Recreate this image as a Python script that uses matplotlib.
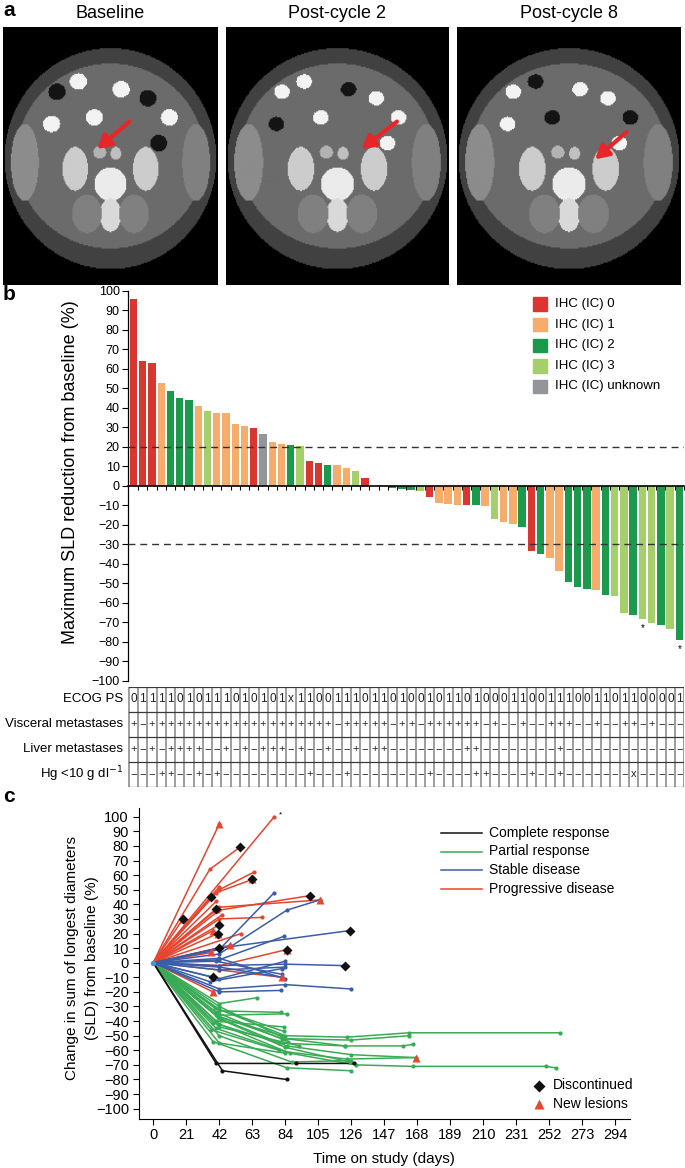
import numpy as np
import matplotlib
matplotlib.use("Agg")
import matplotlib.pyplot as plt
from matplotlib.patches import Rectangle
from matplotlib.lines import Line2D

plt.rcParams['font.family'] = ['Liberation Sans', 'DejaVu Sans']

W, H = 685, 1168

# ---------------------------------------------------------------- data
scan_titles = ["Baseline", "Post-cycle 2", "Post-cycle 8"]

# panel b: best change per patient, IHC group (0,1,2,3,'u')
sld_change = [96, 64, 63, 52.5, 48.5, 45, 44, 41, 38.5, 37.5, 37.5, 31.5, 30.5, 29.5,
              26.5, 22.5, 21.5, 21, 20.5, 12.5, 11.5, 10.5, 10.5, 9, 7.5, 4, 0, 0,
              -1.4, -1.9, -2.2, -2.6, -5.6, -9.1, -9.4, -9.7, -9.7, -9.9, -10.3, -17.1,
              -18.6, -19.5, -21, -33.7, -34.9, -36.9, -43.6, -49.4, -52, -52.8, -53.3,
              -55.9, -56.4, -65.5, -66.2, -68.4, -70.6, -71.3, -73.5, -79.3]
ihc_group = [0, 0, 0, 1, 2, 2, 2, 1, 3, 1, 1, 1, 1, 0, 'u', 1, 1, 2, 3, 0, 0, 2, 1, 1, 3, 0,
             1, 1,
             2, 2, 2, 3, 0, 1, 1, 1, 0, 2, 1, 3, 1, 1, 2, 0, 2, 1, 1, 2, 2, 2, 1, 2, 3, 3,
             2, 3, 3, 2, 3, 2]
starred = [55, 59]
ihc_labels = ["IHC (IC) 0", "IHC (IC) 1", "IHC (IC) 2", "IHC (IC) 3", "IHC (IC) unknown"]
ihc_keys = [0, 1, 2, 3, 'u']

ecog = "011110101110101 01x11001110110 100101101000110011100110110000 1".replace(" ", "")
visceral = "+-++++++++++++++++++++-" + "+++++-++-++++++-+--+--+++--+--++-+---"
liver = "+-+-++++--+-+-+++-+--+--" + "+-++--------++--------+-------------"
hg = "---++--+-+---------+---+" + "--------+----++----+--+-------x-----"
table_rows = ["ECOG PS", "Visceral metastases", "Liver metastases", "Hg <10 g dl$^{-1}$"]

# panel c: SLD change over time, one list per patient; end flag D=discontinued, T=new lesions
cr_days = [[0, 40, 91, 128], [0, 44, 85]]
cr_vals = [[0, -69, -69, -69], [0, -74, -80]]
cr_end = ['', '']

pr_days = [[0, 42, 84, 123, 163, 259], [0, 40, 82, 126, 163], [0, 38, 80, 122, 159, 165],
           [0, 42, 85, 126, 167], [0, 40, 84, 123, 167], [0, 42, 87, 129, 165, 250, 256],
           [0, 38, 85, 126], [0, 42, 66], [0, 42, 81], [0, 42, 85], [0, 40, 83],
           [0, 42, 93], [0, 37, 80], [0, 42, 84], [0, 42, 88, 126], [0, 42, 84, 122],
           [0, 41, 82], [0, 40, 86], [0, 43, 84, 125], [0, 39, 83]]
pr_vals = [[0, -32, -50, -51, -48, -48], [0, -36, -52, -53, -50], [0, -41, -55, -57, -57, -56],
           [0, -38, -57, -63, -65], [0, -45, -61, -66, -65], [0, -42, -62, -70, -71, -71, -72],
           [0, -54, -72, -74], [0, -28, -24], [0, -33, -34], [0, -36, -35], [0, -40, -44],
           [0, -44, -57], [0, -46, -60], [0, -55, -62], [0, -50, -68, -67], [0, -30, -52, -57],
           [0, -37, -50], [0, -34, -54], [0, -39, -58, -68], [0, -31, -47]]
pr_end = ['', '', '', 'T', '', '', '', '', '', '', '', '', '', '', '', '', '', '', '', '']

sd_days = [[0, 42, 77], [0, 42, 85, 106], [0, 42, 125], [0, 42, 83], [0, 42, 84, 122],
           [0, 42, 84, 126], [0, 42], [0, 38], [0, 42, 81], [0, 42, 84], [0, 42, 82],
           [0, 40, 82], [0, 42, 84], [0, 36, 82], [0, 42, 84]]
sd_vals = [[0, 9, 48], [0, 6, 36, 43], [0, 10, 22], [0, 2, 18], [0, -2, -1, -2],
           [0, -18, -15, -18], [0, 10], [0, -10], [0, -20, -19], [0, -11, 1], [0, -3, -10],
           [0, 1, -8], [0, -5, -3], [0, -13, -4], [0, 3, -11]]
sd_end = ['', '', 'D', '', 'D', '', 'D', 'D', '', '', '', '', '', '', '']

pd_days = [[0, 42], [0, 77], [0, 36, 55], [0, 42, 64], [0, 40, 63], [0, 19], [0, 37],
           [0, 40], [0, 42], [0, 41], [0, 42, 69], [0, 37], [0, 49], [0, 56],
           [0, 42, 100], [0, 42, 106], [0, 42, 85], [0, 42, 82], [0, 38], [0, 42],
           [0, 40], [0, 44], [0, 38]]
pd_vals = [[0, 95], [0, 100], [0, 64, 79], [0, 50, 62], [0, 48, 57], [0, 30], [0, 45],
           [0, 37], [0, 26], [0, 20], [0, 30, 31], [0, 7], [0, 12], [0, 20],
           [0, 36, 46], [0, 38, 43], [0, -2, 9], [0, -5, -10], [0, -20], [0, 52],
           [0, 42], [0, 33], [0, 22]]
pd_end = ['T', '', 'D', '', 'DT', 'DT', 'D', 'DT', 'D', 'DT', '', 'T', 'T', '',
          'D', 'T', 'DT', 'T', 'T', '', '', '', 'T']

response_labels = ["Complete response", "Partial response", "Stable disease", "Progressive disease"]

# ---------------------------------------------------------------- style
bar_colors = {0: '#d8362f', 1: '#f6ad6c', 2: '#1c9a4c', 3: '#a5cf6b', 'u': '#939598'}
line_colors = ['#111111', '#3aab55', '#3b5ca8', '#e6452f']
tri_color = '#e8472f'


def box(x0, y0, x1, y1):
    return [x0 / W, 1 - y1 / H, (x1 - x0) / W, (y1 - y0) / H]


fig = plt.figure(figsize=(W / 100, H / 100), dpi=100)

# ---------------------------------------------------------------- panel a (scan placeholders)
def fake_scan(k):
    n = 220
    yy, xx = np.mgrid[-1:1:n * 1j, -1:1:n * 1j]
    img = np.zeros((n, n))
    body = (xx / 0.99) ** 2 + ((yy - 0.02) / 0.86) ** 2 < 1
    inner = (xx / 0.88) ** 2 + ((yy - 0.0) / 0.72) ** 2 < 1
    img[body] = 0.26
    img[inner] = 0.42
    for cx, cy, rx, ry, v in [(-0.8, 0.05, 0.13, 0.3, 0.55), (0.8, 0.05, 0.13, 0.3, 0.5),
                              (-0.33, 0.1, 0.12, 0.17, 0.8), (0.33, 0.1, 0.12, 0.17, 0.8),
                              (0.0, 0.22, 0.15, 0.13, 0.92), (0.0, 0.46, 0.1, 0.13, 0.85),
                              (-0.22, 0.45, 0.14, 0.15, 0.5), (0.22, 0.45, 0.14, 0.15, 0.5),
                              (0.05, -0.02, 0.05, 0.05, 0.75), (-0.1, -0.03, 0.06, 0.05, 0.7)]:
        img[((xx - cx) / rx) ** 2 + ((yy - cy) / ry) ** 2 < 1] = v
    loops = [(-0.5, -0.5), (-0.3, -0.58), (0.1, -0.52), (0.35, -0.45), (0.55, -0.3),
             (-0.55, -0.25), (0.45, -0.1), (-0.15, -0.3)]
    for j, (cx, cy) in enumerate(loops):
        v = 0.95 if (j + k) % 3 else 0.08
        r = 0.08 if k == 0 else 0.07
        img[((xx - cx) / r) ** 2 + ((yy - cy) / (r * 0.8)) ** 2 < 1] = v
    return img


scan_boxes = [(3, 27, 217, 285), (226, 27, 448, 285), (457, 27, 680, 285)]
arrow_tips = [((0.43, 0.52), (0.6, 0.64)), ((0.6, 0.52), (0.78, 0.64)), ((0.61, 0.48), (0.77, 0.6))]
for k, (b, title) in enumerate(zip(scan_boxes, scan_titles)):
    ax = fig.add_axes(box(*b))
    ax.imshow(fake_scan(k), cmap='gray', vmin=0, vmax=1, aspect='auto', interpolation='bilinear')
    ax.set_xticks([])
    ax.set_yticks([])
    for s in ax.spines.values():
        s.set_visible(False)
    tip, tail = arrow_tips[k]
    ax.annotate('', xy=tip, xytext=tail, xycoords='axes fraction',
                arrowprops=dict(arrowstyle='-|>,head_length=0.8,head_width=0.45',
                                color='#e8262a', lw=3))
    fig.text((b[0] + b[2]) / 2 / W, 1 - 13 / H, title, ha='center', va='center', fontsize=13)

fig.text(3 / W, 1 - 10 / H, 'a', fontsize=15, fontweight='bold', va='center')
fig.text(3 / W, 1 - 294 / H, 'b', fontsize=15, fontweight='bold', va='center')
fig.text(3 / W, 1 - 797 / H, 'c', fontsize=15, fontweight='bold', va='center')

# ---------------------------------------------------------------- panel b
n = len(sld_change)
xlo, xhi = -0.594, 59.45
axb = fig.add_axes(box(128, 290.7, 684, 680.7))
idx = np.arange(n)
axb.bar(idx, sld_change, width=0.8, color=[bar_colors[g] for g in ihc_group], zorder=2)
for i in starred:
    axb.text(i, sld_change[i] - 2, '*', ha='center', va='top', fontsize=7)
axb.axhline(20, color='#333333', lw=1, ls=(0, (5, 3.5)), zorder=3)
axb.axhline(-30, color='#333333', lw=1, ls=(0, (5, 3.5)), zorder=3)
axb.set_xlim(xlo, xhi)
axb.set_ylim(-100, 100)
axb.spines['right'].set_visible(False)
axb.spines['top'].set_visible(False)
axb.spines['bottom'].set_position(('data', 0))
axb.spines['bottom'].set_linewidth(1.2)
axb.spines['left'].set_linewidth(0.9)
axb.spines['left'].set_bounds(-100, 100)
axb.set_xticks(np.arange(n) + 0.5)
axb.set_xticklabels([])
axb.tick_params(axis='x', length=3, width=0.8, direction='out')
axb.set_yticks(np.arange(-100, 101, 10))
axb.tick_params(axis='y', length=4, width=0.8, labelsize=9, pad=2)
fig.text(71 / W, 1 - 472 / H, 'Maximum SLD reduction from baseline (%)', rotation=90,
         ha='center', va='center', fontsize=13)

for i, (lab, key) in enumerate(zip(ihc_labels, ihc_keys)):
    yc = 304 + i * 20.6
    fig.add_artist(Rectangle((533 / W, 1 - (yc + 6.8) / H), 13.5 / W, 13.5 / H,
                             color=bar_colors[key], transform=fig.transFigure))
    fig.text(555 / W, 1 - yc / H, lab, va='center', fontsize=9.5)

# table
axt = fig.add_axes(box(128, 686.7, 684, 786.7))
axt.set_xlim(xlo, xhi)
axt.set_ylim(4, 0)
axt.axis('off')
for i in range(n + 1):
    axt.plot([i - 0.5, i - 0.5], [0, 4], color='#8c8c8c', lw=1.2)
for r in range(5):
    axt.plot([-0.5, n - 0.5], [r, r], color='#3a3a3a', lw=0.9)
rows = [ecog, visceral, liver, hg]
for r, row in enumerate(rows):
    for i, ch in enumerate(row[:n]):
        ch = {'-': '\u2212', 'x': 'x'}.get(ch, ch)
        axt.text(i, r + 0.5, ch, ha='center', va='center', fontsize=8.5 if r == 0 else 8,
                 color='#222222')
    axt.text(xlo - 0.55, r + 0.5, table_rows[r], ha='right', va='center', fontsize=9.5)

# ---------------------------------------------------------------- panel c
axc = fig.add_axes(box(138.7, 808, 630, 1118.7))
axc.set_xlim(-9.29, 303.4)
axc.set_ylim(-106.85, 105.96)

groups = [(pd_days, pd_vals, pd_end, line_colors[3]),
          (pr_days, pr_vals, pr_end, line_colors[1]),
          (sd_days, sd_vals, sd_end, line_colors[2]),
          (cr_days, cr_vals, cr_end, line_colors[0])]
for days, vals, ends, col in groups:
    for d, v, e in zip(days, vals, ends):
        axc.plot(d, v, color=col, lw=1.1, zorder=2)
        axc.plot(d[1:], v[1:], 'o', color=col, ms=3, mec='none', zorder=3)
        if 'T' in e:
            axc.plot(d[-1], v[-1], '^', color=tri_color, ms=6, mec='none', zorder=4)
        if 'D' in e:
            axc.plot(d[-1], v[-1], 'D', color='#111111', ms=5, mec='none', zorder=5)
axc.plot(0, 0, 'o', color='#3a9ad9', ms=4, mec='none', zorder=6)
axc.text(pd_days[1][-1] + 3, pd_vals[1][-1] + 1, '*', fontsize=6, ha='left', va='center')

axc.spines['right'].set_visible(False)
axc.spines['top'].set_visible(False)
axc.set_xticks(np.arange(0, 295, 21))
axc.set_yticks(np.arange(-100, 101, 10))
axc.tick_params(length=4, width=0.8, labelsize=10.5, pad=3)
axc.set_xlabel('Time on study (days)', fontsize=11, labelpad=7)
fig.text(72 / W, 1 - 958 / H, 'Change in sum of longest diameters', rotation=90,
         ha='center', va='center', fontsize=11)
fig.text(92 / W, 1 - 958 / H, '(SLD) from baseline (%)', rotation=90,
         ha='center', va='center', fontsize=11)

for i, (lab, col) in enumerate(zip(response_labels, line_colors)):
    yc = 833 + i * 18.5
    fig.add_artist(Line2D([441 / W, 482 / W], [1 - yc / H, 1 - yc / H], color=col, lw=1.1,
                          transform=fig.transFigure))
    fig.text(489 / W, 1 - yc / H, lab, va='center', fontsize=10)

fig.add_artist(Line2D([539 / W], [1 - 1086 / H], marker='D', color='#111111', ms=6,
                      mec='none', transform=fig.transFigure))
fig.text(553 / W, 1 - 1085 / H, 'Discontinued', va='center', fontsize=10)
fig.add_artist(Line2D([539 / W], [1 - 1104 / H], marker='^', color=tri_color, ms=7.5,
                      mec='none', transform=fig.transFigure))
fig.text(553 / W, 1 - 1104 / H, 'New lesions', va='center', fontsize=10)

fig.savefig('out.png', dpi=100)
